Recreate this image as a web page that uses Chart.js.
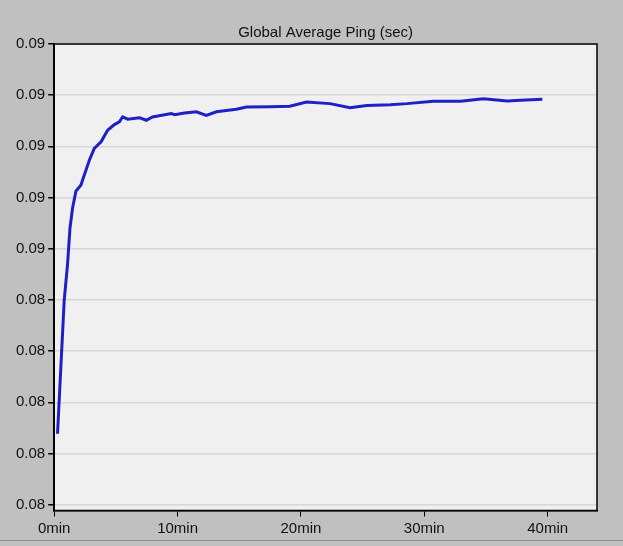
<!DOCTYPE html>
<html>
<head>
<meta charset="utf-8">
<script src="https://cdn.jsdelivr.net/npm/chart.js@4/dist/chart.umd.min.js"></script>
<style>
  html, body { margin: 0; padding: 0; background: #c0c0c0; }
  #wrap { width: 623px; height: 546px; }
</style>
</head>
<body>
<div id="wrap"><canvas id="pingChart" width="623" height="546"></canvas></div>
<script>
// time in minutes, ping in seconds
const minutes = [0.27, 0.81, 1.08, 1.28, 1.49, 1.76, 2.17, 2.44, 2.85, 3.25, 3.80, 4.33, 4.88, 5.28, 5.55, 5.96, 6.91, 7.46, 7.97, 9.49, 9.76, 10.57, 11.52, 12.33, 13.15, 14.77, 15.59, 17.5, 19.1, 20.46, 22.36, 23.98, 25.34, 27.24, 28.59, 30.73, 32.93, 34.8, 36.72, 37.8, 39.57];
const ping = [0.084277, 0.084797, 0.084938, 0.085081, 0.085159, 0.085225, 0.085249, 0.085288, 0.085346, 0.085392, 0.085418, 0.085463, 0.085485, 0.085496, 0.085515, 0.085506, 0.085512, 0.085502, 0.085515, 0.085528, 0.085524, 0.085530, 0.085535, 0.085521, 0.085535, 0.085545, 0.085554, 0.085555, 0.085557, 0.085573, 0.085567, 0.085551, 0.085560, 0.085563, 0.085567, 0.085576, 0.085576, 0.085586, 0.085577, 0.085580, 0.085584];

const xTicks = [0, 10, 20, 30, 40];
const yTicks = [0.0840, 0.0842, 0.0844, 0.0846, 0.0848, 0.0850, 0.0852, 0.0854, 0.0856, 0.0858];
const yTickLabels = ["0.08", "0.08", "0.08", "0.08", "0.08", "0.09", "0.09", "0.09", "0.09", "0.09"];
const title = "Global Average Ping (sec)";

const frame = {
  id: "frame",
  beforeDraw(chart) {
    const { ctx, chartArea: a } = chart;
    ctx.save();
    ctx.fillStyle = "#f0f0f0";
    ctx.fillRect(a.left, a.top, a.right - a.left, a.bottom - a.top);
    ctx.fillStyle = "#8a8a8a";
    ctx.fillRect(0, 540, chart.width, 1);
    ctx.restore();
  },
  afterDatasetsDraw(chart) {
    const { ctx, chartArea: a } = chart;
    ctx.save();
    ctx.strokeStyle = "#000";
    ctx.lineWidth = 1.5;
    ctx.strokeRect(a.left, a.top, a.right - a.left, a.bottom - a.top);
    // title centred over the plot area
    ctx.fillStyle = "#111";
    ctx.font = "15px Arial, 'Liberation Sans'";
    ctx.textAlign = "center";
    ctx.textBaseline = "middle";
    ctx.fillText(title, (a.left + a.right) / 2, 33);
    ctx.restore();
  },
};

new Chart(document.getElementById("pingChart"), {
  type: "line",
  data: {
    datasets: [
      {
        label: title,
        data: minutes.map((m, i) => ({ x: m, y: ping[i] })),
        borderColor: "#1f1fc8",
        borderWidth: 3,
        pointRadius: 0,
        tension: 0,
        fill: false,
      },
    ],
  },
  options: {
    responsive: false,
    animation: false,
    layout: { padding: { top: 44, left: 13, right: 26, bottom: 5.5 } },
    plugins: {
      legend: { display: false },
      tooltip: { enabled: false },
      title: { display: false },
    },
    scales: {
      x: {
        type: "linear",
        min: 0,
        max: 44,
        afterBuildTicks: (axis) => { axis.ticks = xTicks.map((v) => ({ value: v })); },
        ticks: {
          color: "#111",
          font: { family: "Arial, 'Liberation Sans'", size: 15 },
          padding: 3,
          maxRotation: 0,
          callback: (v) => v + "min",
        },
        grid: { drawOnChartArea: false, tickLength: 6, tickColor: "#000" },
        border: { color: "#000", width: 1.5 },
      },
      y: {
        min: 0.083977,
        max: 0.0858,
        afterBuildTicks: (axis) => { axis.ticks = yTicks.map((v) => ({ value: v })); },
        ticks: {
          color: "#111",
          font: { family: "Arial, 'Liberation Sans'", size: 15 },
          padding: 3,
          callback: (v, i) => yTickLabels[i],
        },
        grid: { color: "#d6d6d6", lineWidth: 1.5, tickLength: 6, tickColor: "#000" },
        border: { color: "#000", width: 1.5 },
      },
    },
  },
  plugins: [frame],
});
</script>
</body>
</html>
